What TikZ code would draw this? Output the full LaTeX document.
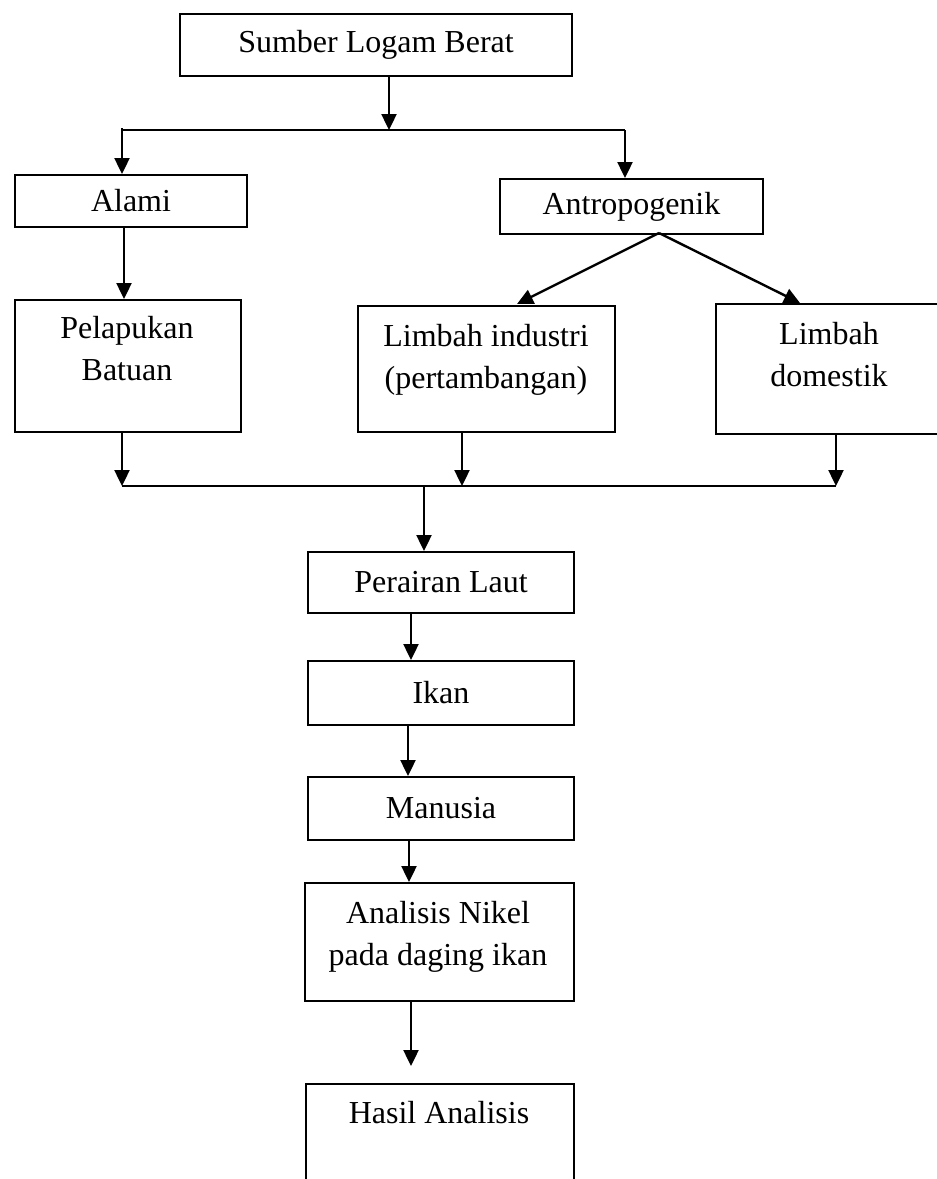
\documentclass[tikz,border=0pt]{standalone}
\usepackage{fontspec}
\setmainfont{Liberation Serif}
\usetikzlibrary{arrows.meta}
\begin{document}
\begin{tikzpicture}[x=1pt,y=-1pt,
  box/.style={draw, line width=2pt, inner sep=0pt, anchor=north west, font=\fontsize{32}{42}\selectfont},
  txt/.style={inner sep=0pt, align=center, anchor=north, font=\fontsize{32}{42}\selectfont},
  ln/.style={line width=2.4pt},
  arr/.style={line width=2.4pt, -{Triangle[width=15pt,length=16pt]}}]
\useasboundingbox (0,0) rectangle (937,1179);
% boxes
\node[box, minimum width=392pt, minimum height=62pt] (sumber) at (179,13) {Sumber Logam Berat};
\node[box, minimum width=232pt, minimum height=52pt] (alami) at (14,174) {Alami};
\node[box, minimum width=263pt, minimum height=55pt] (antro) at (499,178) {Antropogenik};
\node[box, minimum width=226pt, minimum height=132pt] (pel) at (14,299) {};
\node[box, minimum width=257pt, minimum height=126pt] (ind) at (357,305) {};
\node[box, minimum width=228pt, minimum height=130pt] (dom) at (715,303) {};
\node[box, minimum width=266pt, minimum height=61pt] (laut) at (307,551) {Perairan Laut};
\node[box, minimum width=266pt, minimum height=64pt] (ikan) at (307,660) {Ikan};
\node[box, minimum width=266pt, minimum height=63pt] (manusia) at (307,776) {Manusia};
\node[box, minimum width=269pt, minimum height=118pt] (nikel) at (304,882) {};
\node[box, minimum width=268pt, minimum height=130pt] (hasil) at (305,1083) {};
% texts
\node[txt] (peltxt) at (127,316) {Pelapukan\\Batuan};
\node[txt] (indtxt) at (486,324) {Limbah industri\\(pertambangan)};
\node[txt] (domtxt) at (829,322) {Limbah\\domestik};
\node[txt] (nikeltxt) at (438,901) {Analisis Nikel\\pada daging ikan};
\node[txt] (hasiltxt) at (439,1101) {Hasil Analisis};
% junction coordinates
\coordinate (j1) at (389,130);
\coordinate (jl) at (122,130);
\coordinate (jr) at (625,130);
\coordinate (xa) at (124,0);
\coordinate (ap) at (659,233);
\coordinate (it) at (517,304);
\coordinate (dt) at (800,303);
\coordinate (b1) at (122,486);
\coordinate (b2) at (462,486);
\coordinate (b3) at (836,486);
\coordinate (b0) at (424,486);
\coordinate (x1) at (411,0);
\coordinate (x2) at (408,0);
\coordinate (x3) at (409,0);
\coordinate (x4) at (411,0);
\coordinate (ht) at (411,1066);
% connectors
\draw[arr] (sumber.south -| j1) -- (j1);
\draw[ln] (jl) -- (jr);
\draw[arr] ([yshift=2pt]jl) -- (jl |- alami.north);
\draw[arr] (jr) -- (jr |- antro.north);
\draw[arr] (alami.south -| xa) -- (pel.north -| xa);
\draw[arr] (ap) -- (it);
\draw[arr] (ap) -- (dt);
\draw[arr] (pel.south -| b1) -- (b1);
\draw[arr] (ind.south -| b2) -- (b2);
\draw[arr] (dom.south -| b3) -- (b3);
\draw[ln] (b1) -- (b3);
\draw[arr] (b0) -- (laut.north -| b0);
\draw[arr] (laut.south -| x1) -- (ikan.north -| x1);
\draw[arr] (ikan.south -| x2) -- (manusia.north -| x2);
\draw[arr] (manusia.south -| x3) -- (nikel.north -| x3);
\draw[arr] (nikel.south -| x4) -- (ht);
\end{tikzpicture}
\end{document}
